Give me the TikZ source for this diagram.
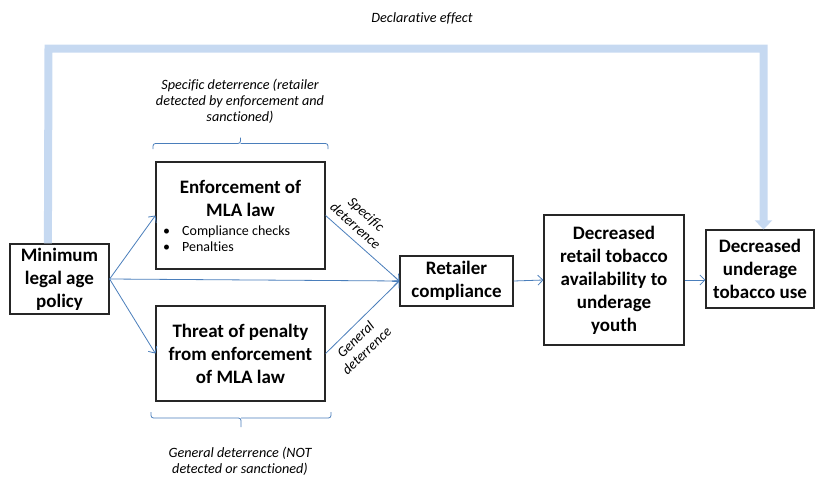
\documentclass[tikz,border=0pt]{standalone}
\usepackage{fontspec}
\setmainfont{Carlito}[Ligatures=NoCommon]
\usetikzlibrary{arrows.meta,calc}

\definecolor{arrowblue}{RGB}{74,126,187}
\definecolor{lightblue}{RGB}{198,217,241}

\newcommand\titlefont{\fontsize{19}{23}\selectfont\bfseries}
\newcommand\notefont{\fontsize{14.2}{16}\selectfont\itshape}
\newcommand\bulletfont{\fontsize{14}{16}\selectfont}

\tikzset{
  box/.style={draw=black!85, line width=1.2pt, inner sep=0pt, align=center, font=\titlefont},
  flow/.style={draw=arrowblue, line width=0.8pt, -{Straight Barb[length=5pt,width=10pt]}},
  note/.style={font=\notefont, align=center, inner sep=0pt},
  brace/.style={draw=arrowblue, line width=0.8pt, rounded corners=2.5pt},
  bigarrow/.style={draw=lightblue, line width=8pt, line join=miter, -{Triangle[width=17pt,length=9pt]}},
}

\begin{document}
\begin{tikzpicture}[x=1pt,y=-1pt]
\useasboundingbox (0,0) rectangle (815,477);

% boxes
\node[box, minimum width=99pt, minimum height=70pt] (mlp) at (59.5,279) {Minimum\\legal age\\policy};
\node[box, minimum width=169pt, minimum height=107pt] (enf) at (240.5,215.5) {};
\node[inner sep=0pt, align=center, font=\titlefont] (enft) at (240.5,198.5) {Enforcement of\\MLA law};
\node[inner sep=0pt, align=left, font=\bulletfont, anchor=west] (enfb) at (163,238.5)
  {\makebox[19pt][l]{\textbullet}Compliance checks\\\makebox[19pt][l]{\textbullet}Penalties};
\node[box, minimum width=169pt, minimum height=95pt] (thr) at (240.5,353.5) {Threat of penalty\\from enforcement\\of MLA law};
\node[box, minimum width=113pt, minimum height=50pt] (ret) at (456.5,281) {Retailer\\compliance};
\node[box, minimum width=140pt, minimum height=130pt] (dec) at (614,280) {Decreased\\retail tobacco\\availability to\\underage\\youth};
\node[box, minimum width=108pt, minimum height=78pt] (und) at (760,269) {Decreased\\underage\\tobacco use};

% declarative effect arrow
\coordinate (c1) at (48.5,48.5);
\coordinate (c2) at (763.5,48.5);
\coordinate (bstart) at ($(mlp.north west)+(38.5,0)$);
\coordinate (bend) at ($(und.north)+(3.5,0)$);
\draw[bigarrow] (bstart) -- (c1) -- (c2) -- (bend);

% flows
\draw[flow] (mlp.east) -- (enf.west);
\draw[flow] (mlp.east) -- (ret.west);
\draw[flow] (mlp.east) -- (thr.west);
\draw[flow] (enf.east) -- (ret.west);
\draw[flow] (thr.east) -- (ret.west);
\draw[flow] (ret.east) -- (dec.west);
\draw[flow] (dec.east) -- (dec.east -| und.west);

% labels
\node[note] (declab) at (422,18) {Declarative effect};
\node[note] (speclab) at (240,101) {Specific deterrence (retailer\\detected by enforcement and\\sanctioned)};
\node[note] (genlab) at (240,461) {General deterrence (NOT\\detected or sanctioned)};
\node[note, rotate=-42] (specdet) at (361,220) {Specific\\deterrence};
\node[note, rotate=44] (gendet) at (361,345) {General\\deterrence};

% brackets
\draw[brace] (153,149) |- (240.5,143.5) -- (240.5,137.5);
\draw[brace] (328,149) |- (240.5,143.5);
\draw[brace] (151,412) |- (241,418) -- (241,427);
\draw[brace] (331,412) |- (241,418);
\end{tikzpicture}
\end{document}
